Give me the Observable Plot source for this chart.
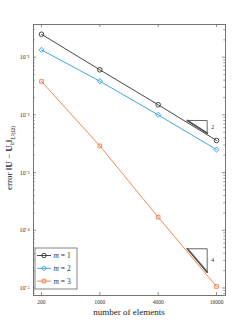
<!DOCTYPE html>
<html><head><meta charset="utf-8">
<script src="https://cdn.jsdelivr.net/npm/d3@7"></script>
<script src="https://cdn.jsdelivr.net/npm/@observablehq/plot@0.6"></script>
<style>
body{margin:0;background:#fff}
svg{font-family:"Liberation Serif","DejaVu Serif",serif}
</style>
</head><body><div id="chart"></div>
<script>
// refinement levels (x position index) and their tick labels
const levels = [0, 1, 2, 3];
const elementLabels = ["200", "1000", "4000", "16000"];
// errors per polynomial degree
const errM1 = [0.25, 0.0605, 0.0150, 0.0036];
const errM2 = [0.134, 0.0384, 0.0100, 0.0025];
const errM3 = [0.038, 0.0029, 0.000169, 0.0000106];
const seriesNames = ["1", "2", "3"];
const seriesColors = ["#333333", "#2f9be0", "#f07a45"];
const seriesSymbols = ["circle", "diamond2", "square2"];
// y axis
const yMajor = [1e-5, 1e-4, 1e-3, 1e-2, 1e-1];
const yMajorLabels = ["10⁻⁵", "10⁻⁴", "10⁻³", "10⁻²", "10⁻¹"];
// slope triangles: rate label, x extent (level units), y top/bottom
const triRates = ["2", "4"];
const triX0 = [2.5, 2.5];
const triX1 = [2.84, 2.84];
const triYTop = [0.0080, 4.78e-5];
const triYBot = [0.0048, 1.88e-5];

const allErr = [errM1, errM2, errM3];
const data = [];
allErr.forEach((arr, s) => arr.forEach((v, i) => data.push({series: s, level: levels[i], err: v})));

const yMinor = [];
for (let e = -6; e <= 0; e++) for (let k = 2; k <= 9; k++) {
  const v = k * Math.pow(10, e);
  if (v > 7.4e-6 && v < 0.369) yMinor.push(v);
}

const triLines = [];
triRates.forEach((r, t) => {
  triLines.push({t, x: triX0[t], y: triYTop[t]});
  triLines.push({t, x: triX1[t], y: triYTop[t]});
  triLines.push({t, x: triX1[t], y: triYBot[t]});
});
const triHyp = [];
triRates.forEach((r, t) => {
  triHyp.push({t, x: triX0[t], y: triYTop[t]});
  triHyp.push({t, x: triX1[t], y: triYBot[t]});
});
const triLabels = triRates.map((r, t) => ({r, x: triX1[t], y: Math.sqrt(triYTop[t] * triYBot[t])}));

const W = 249, H = 332, mL = 33, mR = 24, mT = 24, mB = 37;
const pw = W - mL - mR, ph = H - mT - mB;

const plot = Plot.plot({
  width: W, height: H,
  marginLeft: mL, marginRight: mR, marginTop: mT, marginBottom: mB,
  style: {fontFamily: "Liberation Serif, serif", background: "#fff"},
  x: {type: "linear", domain: [-0.137, 3.154], axis: null},
  y: {type: "log", domain: [7.4e-6, 0.369], axis: null},
  marks: [
    // inward ticks
    Plot.tickX(levels, {x: d => d, insetTop: ph - 3, stroke: "#666", strokeWidth: 0.7}),
    Plot.tickX(levels, {x: d => d, insetBottom: ph - 3, stroke: "#666", strokeWidth: 0.7}),
    Plot.tickY(yMajor, {y: d => d, insetRight: pw - 3, stroke: "#666", strokeWidth: 0.7}),
    Plot.tickY(yMajor, {y: d => d, insetLeft: pw - 3, stroke: "#666", strokeWidth: 0.7}),
    Plot.tickY(yMinor, {y: d => d, insetRight: pw - 1.8, stroke: "#666", strokeWidth: 0.6}),
    Plot.tickY(yMinor, {y: d => d, insetLeft: pw - 1.8, stroke: "#666", strokeWidth: 0.6}),
    Plot.axisX({ticks: levels, tickFormat: i => elementLabels[i], tickSize: 0, tickPadding: 4.5, fontSize: 5.5, fill: "#333", label: null}),
    Plot.axisY({ticks: yMajor, tickFormat: d => yMajorLabels[yMajor.indexOf(d)], tickSize: 0, tickPadding: 4, fontSize: 6, fill: "#333", label: null}),
    // series
    Plot.line(data, {x: "level", y: "err", z: "series", stroke: d => seriesColors[d.series], strokeWidth: 0.9}),
    Plot.dot(data, {x: "level", y: "err", symbol: d => seriesSymbols[d.series], stroke: d => seriesColors[d.series], fill: "none", r: 2.3, strokeWidth: 0.9}),
    // slope triangles
    Plot.line(triLines, {x: "x", y: "y", z: "t", stroke: "#444", strokeWidth: 0.8}),
    Plot.line(triHyp, {x: "x", y: "y", z: "t", stroke: "#555", strokeWidth: 1.8}),
    Plot.text(triLabels, {x: "x", y: "y", text: "r", dx: 4, textAnchor: "start", fontSize: 6, fill: "#333"}),
    Plot.frame({stroke: "#666", strokeWidth: 0.9})
  ]
});
const svg = d3.select(plot);
plot.querySelectorAll("text").forEach(t => t.setAttribute("font-family", "Liberation Serif, serif"));

// x label
svg.append("text").attr("x", mL + pw / 2).attr("y", 315).attr("text-anchor", "middle")
  .attr("font-size", 9).attr("fill", "#222").text("number of elements");

// y label
const yl = svg.append("text").attr("transform", `translate(12,158) rotate(-90)`)
  .attr("text-anchor", "middle").attr("font-size", 9).attr("fill", "#222");
yl.append("tspan").text("error ‖");
yl.append("tspan").attr("font-weight", "bold").text("U");
yl.append("tspan").text(" − ");
yl.append("tspan").attr("font-weight", "bold").text("U");
yl.append("tspan").attr("font-style", "italic").attr("font-size", 6).attr("dy", 2).text("h");
yl.append("tspan").attr("dy", -2).text("‖");
yl.append("tspan").attr("font-size", 6).attr("dy", 2.5).html("<tspan font-style='italic'>L</tspan>²(Ω)");

// legend
const lg = svg.append("g").attr("transform", "translate(35,248)");
lg.append("rect").attr("width", 42).attr("height", 41).attr("fill", "#fff").attr("stroke", "#666").attr("stroke-width", 0.8);
const symMap = {circle: d3.symbolCircle, diamond2: d3.symbolDiamond2, square2: d3.symbolSquare2};
seriesNames.forEach((n, i) => {
  const yy = 7.5 + i * 12.8;
  lg.append("line").attr("x1", 2).attr("x2", 16).attr("y1", yy).attr("y2", yy).attr("stroke", seriesColors[i]).attr("stroke-width", 0.9);
  lg.append("path").attr("transform", `translate(9,${yy})`).attr("d", d3.symbol(symMap[seriesSymbols[i]], 16)())
    .attr("fill", "none").attr("stroke", seriesColors[i]).attr("stroke-width", 0.9);
  const tx = lg.append("text").attr("x", 18.5).attr("y", yy + 2.5).attr("text-anchor", "start")
    .attr("font-size", 7.5).attr("fill", "#333");
  tx.append("tspan").attr("font-style", "italic").text("m");
  tx.append("tspan").text(" = " + n);
});

document.getElementById("chart").appendChild(plot);
</script>
</body></html>
